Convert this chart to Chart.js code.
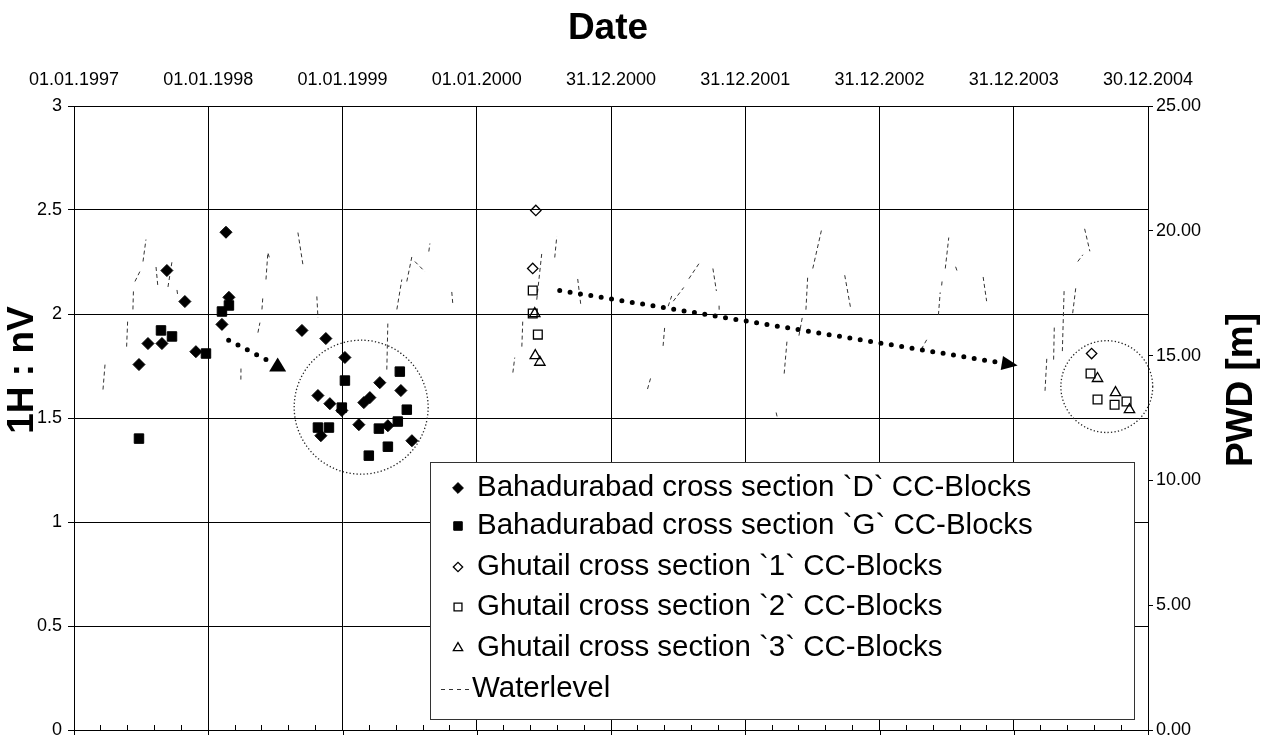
<!DOCTYPE html>
<html>
<head>
<meta charset="utf-8">
<script src="https://cdn.jsdelivr.net/npm/chart.js@4.4.1/dist/chart.umd.min.js"></script>
<style>
  html, body { margin: 0; padding: 0; background: #fff; }
  #wrap { width: 1267px; height: 742px; }
</style>
</head>
<body>
<div id="wrap"><canvas id="chart" width="1267" height="742"></canvas></div>
<script>
const FONT = "'Liberation Sans', Arial, sans-serif";

// top axis labels, one per 365 days starting 01.01.1997
const dateLabels = ['01.01.1997', '01.01.1998', '01.01.1999', '01.01.2000', '31.12.2000',
  '31.12.2001', '31.12.2002', '31.12.2003', '30.12.2004'];

const seriesNames = [
  'Bahadurabad cross section `D` CC-Blocks',
  'Bahadurabad cross section `G` CC-Blocks',
  'Ghutail cross section `1` CC-Blocks',
  'Ghutail cross section `2` CC-Blocks',
  'Ghutail cross section `3` CC-Blocks',
  'Waterlevel'
];

// x values are decimal years
const bahDYear = [1997.484, 1997.551, 1997.655, 1997.692, 1997.826, 1997.908, 1998.102, 1998.132,
  1998.154, 1998.698, 1998.817, 1998.839, 1998.876, 1998.906, 1998.995, 1999.018, 1999.122,
  1999.159, 1999.204, 1999.278, 1999.338, 1999.435, 1999.517];
const bahDVal = [1.757, 1.858, 1.858, 2.209, 2.060, 1.819, 1.950, 2.393, 2.080, 1.921, 1.608,
  1.415, 1.882, 1.569, 1.536, 1.791, 1.468, 1.574, 1.598, 1.670, 1.463, 1.632, 1.391];

const bahGYear = [1997.484, 1997.648, 1997.730, 1997.983, 1998.102, 1998.154, 1998.817, 1998.899,
  1998.995, 1999.018, 1999.196, 1999.271, 1999.338, 1999.412, 1999.427, 1999.479];
const bahGVal = [1.401, 1.921, 1.892, 1.810, 2.012, 2.041, 1.454, 1.454, 1.550, 1.680, 1.319,
  1.449, 1.362, 1.483, 1.723, 1.540];

const gh1Year = [2000.417, 2000.440, 2004.580];
const gh1Val = [2.219, 2.498, 1.810];
const gh2Year = [2000.417, 2000.417, 2000.455, 2004.572, 2004.624, 2004.751, 2004.840];
const gh2Val = [2.113, 2.002, 1.901, 1.714, 1.589, 1.564, 1.579];
const gh3Year = [2000.432, 2000.436, 2000.470, 2004.624, 2004.758, 2004.862];
const gh3Val = [2.002, 1.800, 1.768, 1.690, 1.622, 1.540];

// waterlevel [m], null = gap in the record
const waterYear = [
  1997.216, 1997.231, null, 1997.392, 1997.400, null, 1997.439, 1997.443, null,
  1997.454, 1997.491, null, 1997.514, 1997.536, null, 1997.611, 1997.625, null,
  1997.700, 1997.730, null, 1997.767, 1997.774, null,
  1998.243, 1998.244, null, 1998.370, 1998.385, null, 1998.400, 1998.407, null,
  1998.430, 1998.444, 1998.459, null, 1998.668, 1998.705, null, 1998.809, 1998.817, null,
  1999.330, 1999.338, null, 1999.405, 1999.442, null, 1999.479, 1999.517, null,
  1999.539, 1999.613, null, 1999.643, 1999.651, null, 1999.814, 1999.822, null,
  2000.269, 2000.283, null, 2000.336, 2000.343, null, 2000.447, 2000.485, null,
  2000.581, 2000.596, null, 2000.752, 2000.775, null,
  2001.272, 2001.298, null, 2001.388, 2001.400, null, 2001.426, 2001.452, null,
  2001.464, 2001.542, null, 2001.580, 2001.657, null, 2001.759, 2001.785, null,
  2001.805, 2001.806, null,
  2002.230, 2002.238, null, 2002.290, 2002.311, null, 2002.400, 2002.426, null,
  2002.452, 2002.465, null, 2002.503, 2002.567, null, 2002.741, 2002.785, null,
  2003.311, 2003.362, null, 2003.439, 2003.452, null, 2003.463, 2003.466, null,
  2003.490, 2003.516, null, 2003.567, 2003.580, null, 2003.772, 2003.798, null,
  2004.233, 2004.247, null, 2004.297, 2004.302, null, 2004.362, 2004.375, null,
  2004.439, 2004.464, null, 2004.477, 2004.515, null, 2004.528, 2004.567
];
const waterLevel = [
  13.64, 14.64, null, 15.36, 16.45, null, 16.85, 17.65, null,
  17.97, 18.37, null, 18.77, 19.65, null, 18.55, 17.75, null,
  17.75, 18.77, null, 17.63, 17.35, null,
  14.04, 14.60, null, 15.92, 16.32, null, 16.85, 17.37, null,
  18.05, 19.13, 18.85, null, 19.93, 18.65, null, 17.37, 16.52, null,
  14.44, 16.36, null, 16.85, 18.05, null, 17.97, 18.97, null,
  18.77, 18.37, null, 19.17, 19.49, null, 17.55, 17.04, null,
  14.32, 14.92, null, 15.36, 16.44, null, 17.24, 19.13, null,
  18.93, 19.77, null, 18.07, 17.04, null,
  13.66, 14.15, null, 15.39, 16.15, null, 16.98, 17.39, null,
  17.18, 17.73, null, 18.08, 18.70, null, 18.49, 17.59, null,
  17.00, 16.72, null,
  12.72, 12.54, null, 14.28, 15.59, null, 15.80, 16.56, null,
  16.84, 18.15, null, 18.49, 20.01, null, 18.22, 16.90, null,
  15.25, 15.73, null, 16.63, 17.53, null, 17.81, 17.97, null,
  18.49, 19.73, null, 18.56, 18.36, null, 18.15, 17.18, null,
  13.59, 14.97, null, 14.84, 16.15, null, 15.18, 17.59, null,
  16.70, 17.80, null, 18.77, 19.04, null, 20.08, 19.18
];

// hand drawn marks on the chart (in data units: year, 1H:nV)
const circles = [{ x: 1999.139, y: 1.552, r: 0.499 }, { x: 2004.693, y: 1.651, r: 0.342 }];
const arrows = [
  { from: [1998.152, 1.874], to: [1998.517, 1.752], head: 'up' },
  { from: [2000.618, 2.113], to: [2004.029, 1.752], head: 'point' }
];

const pts = (xs, ys) => xs.map((x, i) => ({ x: x, y: ys[i] }));
const waterPts = waterYear.map((x, i) => ({ x: x === null ? waterYear[i - 1] : x, y: waterLevel[i] }));

const markerSet = (label, data, style, radius, filled) => ({
  type: 'scatter', label: label, data: data, xAxisID: 'x', yAxisID: 'y',
  pointStyle: style, pointRadius: radius, pointHoverRadius: radius,
  backgroundColor: filled ? '#000' : 'rgba(0,0,0,0)', borderColor: '#000',
  pointBorderWidth: filled ? 1 : 1.3
});

const overlay = {
  id: 'overlay',
  afterDatasetsDraw(chart) {
    const { ctx, chartArea, scales: { x, y } } = chart;
    ctx.save();
    // major ticks crossing the bottom axis
    ctx.strokeStyle = '#000';
    ctx.lineWidth = 1;
    x.ticks.forEach(t => {
      const px = Math.round(x.getPixelForValue(t.value)) + 0.5;
      ctx.beginPath();
      ctx.moveTo(px, chartArea.bottom);
      ctx.lineTo(px, chartArea.bottom + 5);
      ctx.stroke();
    });
    // dotted circles
    ctx.strokeStyle = '#222';
    ctx.lineWidth = 1.3;
    ctx.setLineDash([1.3, 2.2]);
    circles.forEach(c => {
      const cx = x.getPixelForValue(c.x), cy = y.getPixelForValue(c.y);
      const r = x.getPixelForValue(c.x + c.r) - cx;
      ctx.beginPath();
      ctx.arc(cx, cy, r, 0, Math.PI * 2);
      ctx.stroke();
    });
    // dotted arrows
    arrows.forEach(a => {
      const x0 = x.getPixelForValue(a.from[0]), y0 = y.getPixelForValue(a.from[1]);
      const x1 = x.getPixelForValue(a.to[0]), y1 = y.getPixelForValue(a.to[1]);
      const len = Math.hypot(x1 - x0, y1 - y0);
      const ux = (x1 - x0) / len, uy = (y1 - y0) / len;
      const stop = a.head === 'up' ? 11 : 22;
      ctx.setLineDash([0, 10.5]);
      ctx.lineCap = 'round';
      ctx.lineWidth = 5;
      ctx.strokeStyle = '#000';
      ctx.beginPath();
      ctx.moveTo(x0, y0);
      ctx.lineTo(x1 - ux * stop, y1 - uy * stop);
      ctx.stroke();
      ctx.setLineDash([]);
      ctx.fillStyle = '#000';
      ctx.beginPath();
      if (a.head === 'up') {
        ctx.moveTo(x1, y1 - 8);
        ctx.lineTo(x1 - 8.5, y1 + 6);
        ctx.lineTo(x1 + 8.5, y1 + 6);
      } else {
        const bx = x1 - ux * 16, by = y1 - uy * 16;
        ctx.moveTo(x1, y1);
        ctx.lineTo(bx - uy * 7, by + ux * 7);
        ctx.lineTo(bx + uy * 7, by - ux * 7);
      }
      ctx.closePath();
      ctx.fill();
    });
    ctx.restore();
  },
  afterDraw(chart) {
    const ctx = chart.ctx;
    ctx.save();
    // legend box
    const lx = 430, ly = 462, lw = 704, lh = 257;
    ctx.fillStyle = '#fff';
    ctx.fillRect(lx, ly, lw, lh);
    ctx.strokeStyle = '#333';
    ctx.lineWidth = 1;
    ctx.strokeRect(lx + 0.5, ly + 0.5, lw, lh);
    const rows = [488, 526, 567, 607, 648, 689];
    ctx.font = '29.5px ' + FONT;
    ctx.textBaseline = 'middle';
    chart.data.datasets.forEach((ds, i) => {
      const yy = rows[i];
      ctx.fillStyle = '#000';
      if (ds.type === 'line') {
        ctx.strokeStyle = ds.borderColor;
        ctx.lineWidth = 1;
        ctx.setLineDash([4, 4]);
        ctx.beginPath();
        ctx.moveTo(441, yy + 0.5);
        ctx.lineTo(471, yy + 0.5);
        ctx.stroke();
        ctx.setLineDash([]);
        ctx.fillText(ds.label, 472, yy);
      } else {
        ctx.fillStyle = ds.backgroundColor;
        ctx.strokeStyle = ds.borderColor;
        ctx.lineWidth = ds.pointBorderWidth;
        Chart.helpers.drawPoint(ctx, { pointStyle: ds.pointStyle, radius: ds.pointRadius * 0.9,
          rotation: 0, borderWidth: ds.pointBorderWidth }, 458, yy);
        ctx.fillStyle = '#000';
        ctx.fillText(ds.label, 477, yy);
      }
    });
    // titles
    ctx.fillStyle = '#000';
    ctx.textAlign = 'center';
    ctx.font = 'bold 37px ' + FONT;
    ctx.fillText('Date', 608, 29);
    ctx.translate(23, 370);
    ctx.rotate(-Math.PI / 2);
    ctx.fillText('1H : nV', 0, 0);
    ctx.setTransform(1, 0, 0, 1, 0, 0);
    ctx.translate(1242, 390);
    ctx.rotate(-Math.PI / 2);
    ctx.fillText('PWD [m]', 0, 0);
    ctx.restore();
  }
};

// fixed axis box sizes; labels may overhang the plot edges
const fixWidth = w => s => { s.width = w; s.paddingTop = 0; s.paddingBottom = 0; };

new Chart(document.getElementById('chart'), {
  data: {
    datasets: [
      markerSet(seriesNames[0], pts(bahDYear, bahDVal), 'rectRot', 6, true),
      markerSet(seriesNames[1], pts(bahGYear, bahGVal), 'rect', 6.7, true),
      markerSet(seriesNames[2], pts(gh1Year, gh1Val), 'rectRot', 5.2, false),
      markerSet(seriesNames[3], pts(gh2Year, gh2Val), 'rect', 6.2, false),
      markerSet(seriesNames[4], pts(gh3Year, gh3Val), 'triangle', 6, false),
      {
        type: 'line', label: seriesNames[5], data: waterPts, xAxisID: 'x', yAxisID: 'y2',
        borderColor: '#333', borderWidth: 1, borderDash: [4, 3], pointRadius: 0,
        spanGaps: false, tension: 0
      }
    ]
  },
  options: {
    responsive: false,
    animation: false,
    devicePixelRatio: 1,
    layout: { padding: 0 },
    plugins: { legend: { display: false }, tooltip: { enabled: false } },
    scales: {
      x: {
        type: 'linear', position: 'top', min: 1997, max: 2005,
        ticks: {
          stepSize: 1, autoSkip: false, maxRotation: 0, padding: 15, color: '#000',
          font: { family: FONT, size: 18 },
          callback: v => dateLabels[Math.round(v - 1997)]
        },
        grid: { color: '#000', drawTicks: false },
        border: { color: '#000' },
        afterFit: s => { s.height = 106; }
      },
      xb: {
        type: 'linear', position: 'bottom', min: 1997, max: 2005,
        ticks: { stepSize: 0.2, display: false },
        grid: { drawOnChartArea: false, color: '#000', tickLength: -5 },
        border: { color: '#000' },
        afterFit: s => { s.height = 12; }
      },
      y: {
        position: 'left', min: 0, max: 3,
        ticks: { stepSize: 0.5, padding: 6, color: '#000', font: { family: FONT, size: 18 },
          callback: v => String(v) },
        grid: { color: '#000', tickLength: 6 },
        border: { color: '#000' },
        afterFit: fixWidth(74)
      },
      y2: {
        position: 'right', min: 0, max: 25,
        ticks: { stepSize: 5, padding: 3, color: '#000', font: { family: FONT, size: 18 },
          callback: v => v.toFixed(2) },
        grid: { drawOnChartArea: false, color: '#000', tickLength: 5 },
        border: { color: '#000' },
        afterFit: fixWidth(119)
      }
    }
  },
  plugins: [overlay]
});
</script>
</body>
</html>
